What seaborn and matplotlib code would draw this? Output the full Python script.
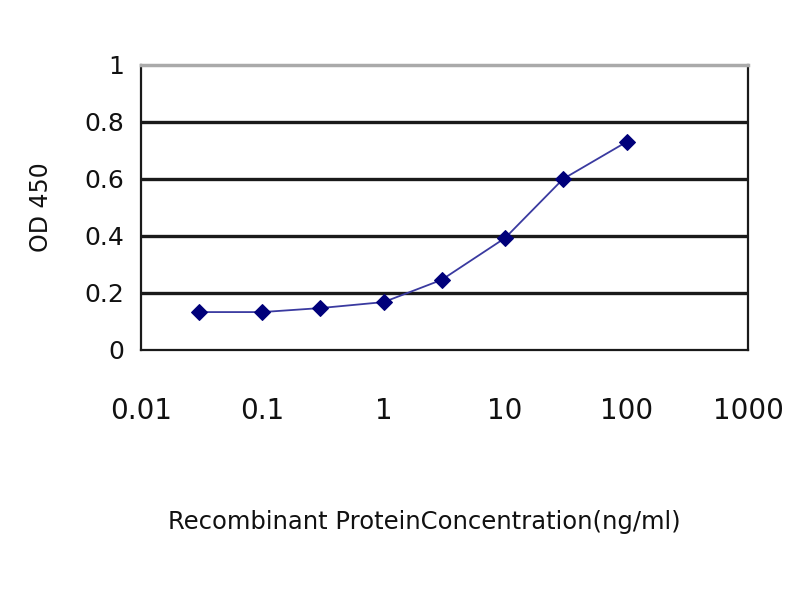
import numpy as np
import pandas as pd
import matplotlib
matplotlib.use("Agg")
import matplotlib.pyplot as plt
import seaborn as sns

# dados
concentracao = [0.03, 0.1, 0.3, 1, 3, 10, 30, 100]
od450 = [0.133, 0.133, 0.147, 0.168, 0.246, 0.393, 0.60, 0.73]
y_ticks = [0, 0.2, 0.4, 0.6, 0.8, 1]
y_labels = ["0", "0.2", "0.4", "0.6", "0.8", "1"]
x_ticks = [0.01, 0.1, 1, 10, 100, 1000]
x_labels = ["0.01", "0.1", "1", "10", "100", "1000"]

df = pd.DataFrame({"conc": concentracao, "od": od450})

sns.set_style("white")
plt.rcParams["font.family"] = ["DejaVu Sans"]
plt.rcParams["text.color"] = "#111111"
plt.rcParams["xtick.color"] = "#111111"
plt.rcParams["ytick.color"] = "#111111"
plt.rcParams["axes.labelcolor"] = "#111111"

fig = plt.figure(figsize=(8, 6), dpi=100)
ax = fig.add_axes([0.176, 0.4167, 0.759, 0.475])

for y in [0.2, 0.4, 0.6, 0.8]:
    ax.axhline(y, color="#1a1a1a", lw=2.4, zorder=1)

sns.lineplot(data=df, x="conc", y="od", ax=ax, color="#3a3aa0", lw=1.3,
             marker="D", markersize=8, markerfacecolor="#00007a",
             markeredgecolor="#00007a", zorder=3)

ax.set_xscale("log")
ax.set_xlim(0.01, 1000)
ax.set_ylim(0, 1)
ax.set_xticks(x_ticks)
ax.set_xticklabels(x_labels, fontsize=20)
ax.minorticks_off()
ax.set_yticks(y_ticks)
ax.set_yticklabels(y_labels, fontsize=18)
ax.tick_params(axis="x", direction="in", length=6, width=1.2, pad=34, color="#333333")
ax.tick_params(axis="y", length=0, pad=12)

for lado in ["left", "bottom", "right"]:
    ax.spines[lado].set_color("#1a1a1a")
    ax.spines[lado].set_linewidth(1.6)
ax.spines["top"].set_color("#aaaaaa")
ax.spines["top"].set_linewidth(2.5)

ax.set_xlabel("Recombinant ProteinConcentration(ng/ml)", fontsize=17.5)
ax.xaxis.set_label_coords(0.467, -0.56)
ax.set_ylabel("OD 450", fontsize=17)
ax.yaxis.set_label_coords(-0.145, 0.5)

fig.savefig("out.png", dpi=100)
